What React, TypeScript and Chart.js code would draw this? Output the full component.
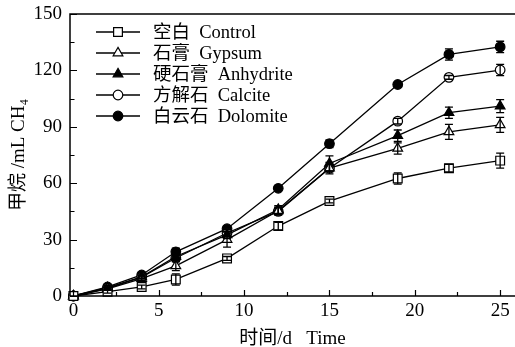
import React, { useEffect, useRef } from "react";
import { Chart, registerables } from "chart.js";

Chart.register(...registerables);

const days = [0, 2, 4, 6, 9, 12, 15, 19, 22, 25];
const seriesNames = ["空白  Control", "石膏  Gypsum", "硬石膏  Anhydrite", "方解石  Calcite", "白云石  Dolomite"];
const control = [0, 2.3, 4.8, 8.8, 20, 37.2, 50.5, 62.5, 68, 72];
const gypsum = [0, 3.8, 9.2, 16, 30, 45.3, 68, 78.5, 87.3, 91];
const anhydrite = [0, 4.4, 10.2, 21, 32.5, 46, 70.5, 85.3, 97.5, 101];
const calcite = [0, 4, 10, 20.2, 33.5, 45, 68, 93, 116.3, 120.2];
const dolomite = [0, 4.8, 11.2, 23.5, 35.8, 57.3, 81, 112.5, 128.5, 132.5];
const controlErr = [0, 0.8, 1, 3, 1, 2, 1, 3, 2, 4];
const gypsumErr = [0, 0.8, 1, 2.5, 4, 2, 3, 3, 4, 4];
const anhydriteErr = [0, 0.8, 1, 2, 2, 2, 4, 3, 3, 3.5];
const calciteErr = [0, 0.8, 1, 2, 2, 2, 2, 1.5, 1, 3];
const dolomiteErr = [0, 0.8, 1, 2, 1.5, 1, 2, 1, 3, 3];
const xTicks = [0, 5, 10, 15, 20, 25];
const yTicks = [0, 30, 60, 90, 120, 150];
const xMinor = [2.5, 7.5, 12.5, 17.5, 22.5];
const yMinor = [15, 45, 75, 105, 135];

const values = [control, gypsum, anhydrite, calcite, dolomite];
const errors = [controlErr, gypsumErr, anhydriteErr, calciteErr, dolomiteErr];
const styles = [
  { pointStyle: "rect", fill: "#ffffff", radius: 6.2 },
  { pointStyle: "triangle", fill: "#ffffff", radius: 5.6 },
  { pointStyle: "triangle", fill: "#000000", radius: 5.6 },
  { pointStyle: "circle", fill: "#ffffff", radius: 4.8 },
  { pointStyle: "circle", fill: "#000000", radius: 4.8 },
];

const FONT = "'Liberation Serif', 'Times New Roman', 'Noto Sans CJK SC', serif";

function drawMarker(ctx: any, style: string, r: number, cx: number, cy: number, fill: string) {
  ctx.save();
  ctx.fillStyle = fill;
  ctx.strokeStyle = "#000";
  ctx.lineWidth = 1.2;
  ctx.beginPath();
  if (style === "rect") {
    const s = Math.SQRT1_2 * r;
    ctx.rect(cx - s, cy - s, 2 * s, 2 * s);
  } else if (style === "triangle") {
    let rad = 0;
    ctx.moveTo(cx + Math.sin(rad) * r, cy - Math.cos(rad) * r);
    rad += (2 * Math.PI) / 3;
    ctx.lineTo(cx + Math.sin(rad) * r, cy - Math.cos(rad) * r);
    rad += (2 * Math.PI) / 3;
    ctx.lineTo(cx + Math.sin(rad) * r, cy - Math.cos(rad) * r);
    ctx.closePath();
  } else {
    ctx.arc(cx, cy, r, 0, Math.PI * 2);
  }
  ctx.fill();
  ctx.stroke();
  ctx.restore();
}

const framePlugin = {
  id: "frameTicks",
  afterDatasetsDraw(chart: any) {
    const ctx = chart.ctx;
    const x = chart.scales.x;
    const y = chart.scales.y;
    ctx.save();
    ctx.strokeStyle = "#000";
    ctx.lineWidth = 1.3;
    chart.data.datasets.forEach((ds: any, i: number) => {
      const err = errors[i];
      ds.data.forEach((p: any, j: number) => {
        const e = err[j];
        if (!e) return;
        const px = x.getPixelForValue(p.x);
        const top = y.getPixelForValue(p.y + e);
        const bot = y.getPixelForValue(p.y - e);
        ctx.beginPath();
        ctx.moveTo(px, top);
        ctx.lineTo(px, bot);
        ctx.moveTo(px - 4, top);
        ctx.lineTo(px + 4, top);
        ctx.moveTo(px - 4, bot);
        ctx.lineTo(px + 4, bot);
        ctx.stroke();
      });
    });
    ctx.restore();
  },
  afterDraw(chart: any) {
    const ctx = chart.ctx;
    const x = chart.scales.x;
    const y = chart.scales.y;
    const a = chart.chartArea;
    ctx.save();
    ctx.strokeStyle = "#000";
    ctx.lineWidth = 1.5;
    ctx.beginPath();
    ctx.moveTo(a.left, a.bottom);
    ctx.lineTo(a.left, a.top);
    ctx.lineTo(a.right + 2, a.top);
    ctx.moveTo(a.left, a.bottom);
    ctx.lineTo(a.right + 2, a.bottom);
    ctx.stroke();
    ctx.lineWidth = 1.2;
    ctx.beginPath();
    xTicks.forEach((v) => {
      const px = Math.round(x.getPixelForValue(v)) + 0.5;
      ctx.moveTo(px, a.bottom);
      ctx.lineTo(px, a.bottom - 6);
    });
    xMinor.forEach((v) => {
      const px = Math.round(x.getPixelForValue(v)) + 0.5;
      ctx.moveTo(px, a.bottom);
      ctx.lineTo(px, a.bottom - 4);
    });
    yTicks.forEach((v) => {
      const py = Math.round(y.getPixelForValue(v)) + 0.5;
      ctx.moveTo(a.left, py);
      ctx.lineTo(a.left + 7, py);
    });
    yMinor.forEach((v) => {
      const py = Math.round(y.getPixelForValue(v)) + 0.5;
      ctx.moveTo(a.left, py);
      ctx.lineTo(a.left + 4.5, py);
    });
    ctx.stroke();

    // legend
    ctx.font = `18.5px ${FONT}`;
    ctx.textBaseline = "middle";
    seriesNames.forEach((name, i) => {
      const ly = a.top + 18 + i * 21;
      ctx.lineWidth = 1.3;
      ctx.strokeStyle = "#000";
      ctx.beginPath();
      ctx.moveTo(a.left + 26, ly);
      ctx.lineTo(a.left + 70, ly);
      ctx.stroke();
      const st = styles[i];
      drawMarker(ctx, st.pointStyle, st.radius, a.left + 48, ly, st.fill);
      ctx.fillStyle = "#000";
      ctx.fillText(name, a.left + 83, ly + 1);
    });
    ctx.restore();
  },
};

export default function App() {
  const ref = useRef<HTMLCanvasElement>(null);
  useEffect(() => {
    if (!ref.current) return;
    const datasets = values.map((vals, i) => ({
      label: seriesNames[i],
      data: vals.map((v, j) => ({ x: days[j], y: v })),
      borderColor: "#000",
      borderWidth: 1.3,
      pointStyle: styles[i].pointStyle,
      pointRadius: styles[i].radius,
      pointBackgroundColor: styles[i].fill,
      pointBorderColor: "#000",
      pointBorderWidth: 1.2,
      tension: 0,
      fill: false,
      clip: false,
    }));
    const chart = new Chart(ref.current, {
      type: "line",
      data: { datasets },
      options: {
        animation: false,
        responsive: false,
        layout: { autoPadding: false, padding: { top: 14, right: 0, left: 0, bottom: 0 } },
        plugins: { legend: { display: false }, tooltip: { enabled: false } },
        scales: {
          x: {
            type: "linear",
            min: -0.2,
            max: 25.87,
            afterBuildTicks: (s: any) => {
              s.ticks = xTicks.map((v) => ({ value: v }));
            },
            afterFit: (s: any) => {
              s.height = 51;
              s.paddingLeft = 0;
              s.paddingRight = 0;
            },
            grid: { display: false, drawTicks: false },
            border: { display: false },
            ticks: {
              color: "#000",
              font: { family: FONT, size: 19 },
              padding: 4,
              maxRotation: 0,
              autoSkip: false,
            },
            title: {
              display: true,
              text: "时间/d   Time",
              color: "#000",
              font: { family: FONT, size: 19 },
              padding: { top: 0, bottom: -3 },
            },
          },
          y: {
            type: "linear",
            min: 0,
            max: 150,
            afterBuildTicks: (s: any) => {
              s.ticks = yTicks.map((v) => ({ value: v }));
            },
            afterFit: (s: any) => {
              s.width = 70;
              s.paddingTop = 0;
              s.paddingBottom = 0;
            },
            grid: { display: false, drawTicks: false },
            border: { display: false },
            ticks: {
              color: "#000",
              font: { family: FONT, size: 19 },
              padding: 8,
              autoSkip: false,
            },
            title: {
              display: true,
              text: "甲烷 /mL CH₄",
              color: "#000",
              font: { family: FONT, size: 19 },
              padding: { top: 8, bottom: 0 },
            },
          },
        },
      },
      plugins: [framePlugin],
    } as any);
    return () => chart.destroy();
  }, []);
  return (
    <div style={{ position: "fixed", left: 0, top: 0, width: 515, height: 347, background: "#fff" }}>
      <canvas ref={ref} width={515} height={347} style={{ width: 515, height: 347 }} />
    </div>
  );
}
